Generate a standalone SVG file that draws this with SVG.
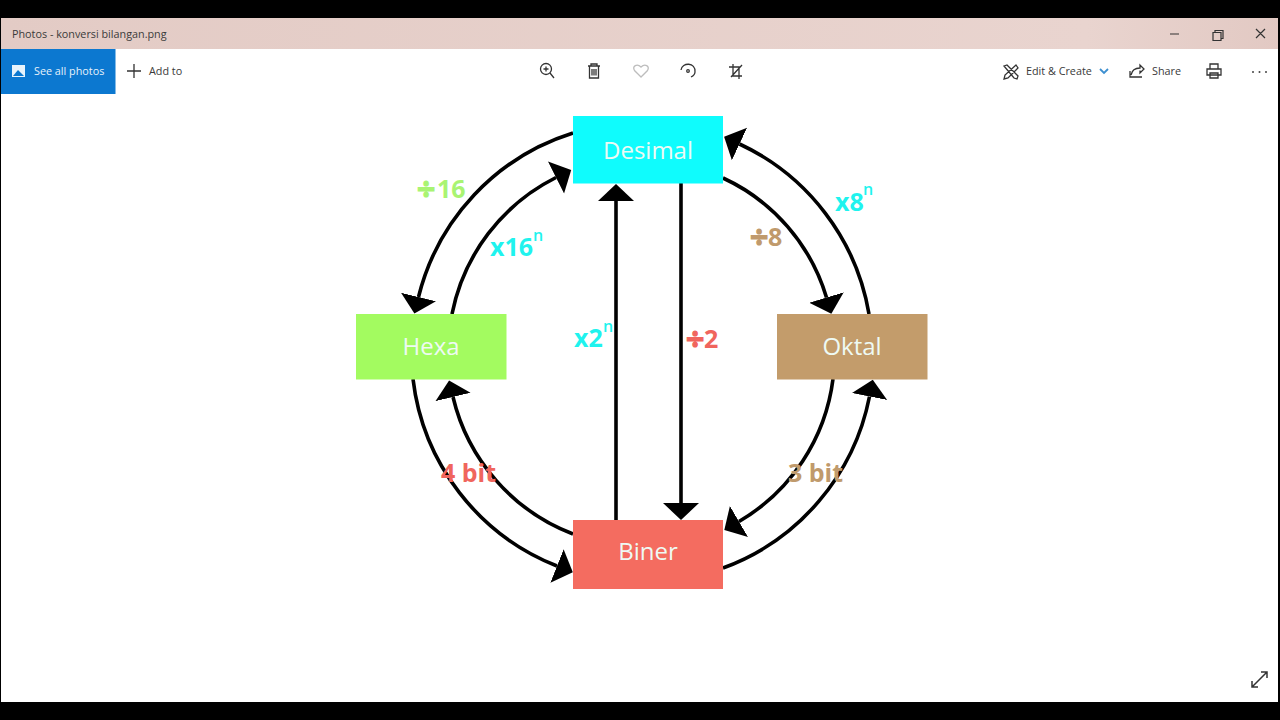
<svg xmlns="http://www.w3.org/2000/svg" width="1280" height="720" viewBox="0 0 1280 720">
<style>
.ui{font-family:"Open Sans","Noto Sans",sans-serif;font-size:10.8px;fill:#3a3a3a}
.nt{font-family:"Open Sans","Noto Sans",sans-serif;font-size:24px;fill:#eefaf4;text-anchor:middle}
.lb{font-family:"Open Sans","Noto Sans",sans-serif;font-weight:700;font-size:25px}
.dv{font-size:32px;stroke-width:1.200}
.sup{font-family:"Open Sans","Noto Sans",sans-serif;font-weight:600;font-size:16px}
.cy{fill:#1ff3ee}.gr{fill:#a9f472}.tn{fill:#c09a6c}.rd{fill:#f0655d}
.dv.gr{stroke:#a9f472}.dv.tn{stroke:#c09a6c}.dv.rd{stroke:#f0655d}
.c{fill:none;stroke:#000;stroke-width:3.600;marker-end:url(#ah)}
.i{fill:none;stroke:#333;stroke-width:1.300}
</style>
<defs>
<marker id="ah" markerUnits="userSpaceOnUse" markerWidth="20" markerHeight="38" refX="0" refY="18" orient="auto"><path d="M0,0L17,18L0,36Z" fill="#000"/></marker>
<linearGradient id="tb" x1="0" x2="1" y1="0" y2="0"><stop offset="0" stop-color="#e3cbc5"/><stop offset=".85" stop-color="#e9d4cf"/><stop offset="1" stop-color="#e2c9c3"/></linearGradient>
</defs>
<rect width="1280" height="720" fill="#000"/>
<rect x="1" y="18" width="1277" height="684" fill="#fff"/>
<rect x="1" y="18" width="1277" height="31" fill="url(#tb)"/>
<text class="ui" x="12" y="38">Photos - konversi bilangan.png</text>
<path d="M1170,34H1179M1213,32.500h8v8h-8zM1215,32.500v-2h8v8h-2M1256,29L1265,38M1265,29L1256,38" fill="none" stroke="#333" stroke-width="1.200"/>
<rect x="1" y="49" width="114.500" height="45" fill="#0c78d0"/>
<rect x="12" y="65" width="13" height="12" fill="#e8f3fb"/><path d="M13,76L18,70L24,76Z" fill="#0c78d0"/>
<text class="ui" x="34" y="75" style="fill:#e6f2fb">See all photos</text>
<path d="M134,64V78M127,71H141" stroke="#333" stroke-width="1.300" fill="none"/>
<text class="ui" x="149" y="75">Add to</text>
<g class="i">
<circle cx="546" cy="69" r="5.500"/><path d="M550,73L554,78M543.500,69H548.500M546,66.500V71.500"/>
<path d="M588,66H600M591,66V64H597V66M589.500,66V78H598.500V66M592,69V75.500M594,69V75.500M596,69V75.500"/>
<path d="M641,77L634.500,70.500C632,66 637,63 641,67C645,63 650,66 647.500,70.500Z" stroke="#bdbdbd"/>
<path d="M681,70C682,62 696,62 695,72C695,75 693,76 691,77"/><circle cx="688" cy="71" r="1.300"/>
<path d="M733,64V76H742M729,67H739V79M731,77L742,65"/>
<path d="M1004,66L1007,65L1018,76L1017,79L1014,78ZM1016,65L1018,68L1008,78L1004,79L1005,75Z"/>
<path d="M1130,71V77H1142M1131,75C1132,70 1136,68 1140,68V65L1144,69L1140,73V70.500"/>
<path d="M1210,69V64H1218V69M1207,69H1221V75H1207ZM1210,73H1218V78H1210Z"/>
<path d="M1252,687L1267,672M1252,681V687H1258M1261,672H1267V678" stroke-width="1.500"/>
</g>
<path d="M1100,69L1104,73L1108,69" fill="none" stroke="#3c8fd0" stroke-width="1.800"/>
<g fill="#444"><circle cx="1253" cy="72" r="1"/><circle cx="1259.500" cy="72" r="1"/><circle cx="1266" cy="72" r="1"/></g>
<text class="ui" x="1026" y="75">Edit &amp; Create</text>
<text class="ui" x="1152" y="75">Share</text>
<g id="connectors">
<path class="c" d="M573,133A230,230 0 0 0 418.500,297"/>
<path class="c" d="M452,314A195,195 0 0 1 556,177.500"/>
<path class="c" d="M869,314A230,230 0 0 0 739.500,144"/>
<path class="c" d="M723,178A192,192 0 0 1 826.500,297.500"/>
<path class="c" d="M413,379A230,230 0 0 0 557,566"/>
<path class="c" d="M573,534A195,195 0 0 1 453,397"/>
<path class="c" d="M833,379A193,193 0 0 1 739,521.500"/>
<path class="c" d="M723,568A230,230 0 0 0 869.500,396.500"/>
<path class="c" d="M616,520V201"/>
<path class="c" d="M681,183V503"/>
</g>
<g id="desimal"><rect x="573" y="116" width="150" height="67.500" fill="#0ffcfd"/><text class="nt" x="648" y="159">Desimal</text></g>
<g id="hexa"><rect x="356" y="314" width="150.500" height="65.500" fill="#a3fb60"/><text class="nt" x="431" y="355">Hexa</text></g>
<g id="oktal"><rect x="777" y="314" width="150.500" height="65.500" fill="#c39c6b"/><text class="nt" x="852" y="355">Oktal</text></g>
<g id="biner"><rect x="573" y="520" width="150" height="69" fill="#f46c60"/><text class="nt" x="648" y="560">Biner</text></g>
<g id="labels">
<text class="lb gr" x="417" y="198"><tspan class="dv gr" dy="3">÷</tspan><tspan x="437" dy="-3">16</tspan></text>
<text class="lb cy" x="490" y="256">x16</text><text class="sup cy" x="533" y="241">n</text>
<text class="lb cy" x="574" y="347">x2</text><text class="sup cy" x="603" y="332">n</text>
<text class="lb rd" x="686" y="348"><tspan class="dv rd" dy="3">÷</tspan><tspan x="704" dy="-3">2</tspan></text>
<text class="lb tn" x="750" y="246"><tspan class="dv tn" dy="3">÷</tspan><tspan x="768" dy="-3">8</tspan></text>
<text class="lb cy" x="835" y="211">x8</text><text class="sup cy" x="863" y="195">n</text>
<text class="lb rd" x="441" y="482">4 bit</text>
<text class="lb tn" x="788" y="482">3 bit</text>
</g>
</svg>
